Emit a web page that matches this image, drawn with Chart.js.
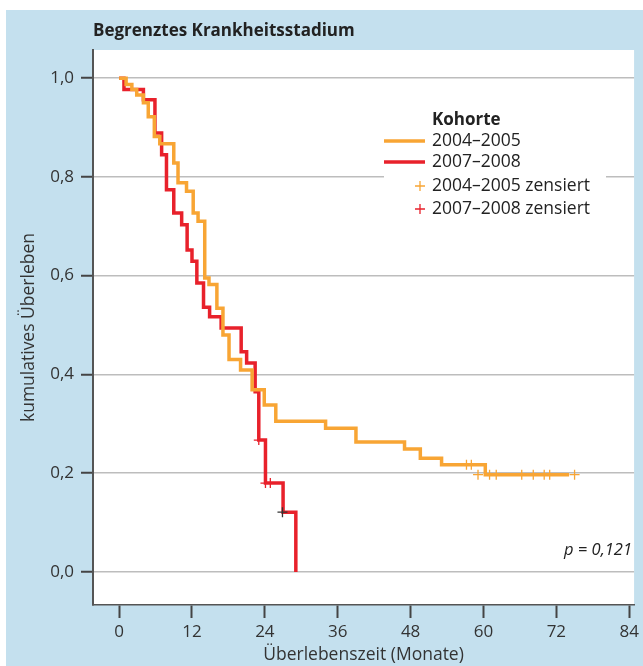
<!DOCTYPE html>
<html>
<head>
<meta charset="utf-8">
<script src="https://cdn.jsdelivr.net/npm/chart.js@4.4.1/dist/chart.umd.min.js"></script>
<style>
  body { margin: 0; background: #fff; }
  #wrap { width: 643px; height: 666px; }
</style>
</head>
<body>
<div id="wrap"><canvas id="kmChart" width="643" height="666"></canvas></div>
<script>
// Kaplan-Meier Daten
const orangeT = [0, 1.15, 2.1, 2.9, 4.0, 4.8, 5.8, 6.7, 9.0, 9.7, 11.1, 12.2, 13.0, 14.1, 14.8, 16.1, 17.1, 18.1, 20.0, 21.9, 23.9, 25.8, 34.0, 39.0, 47.0, 49.6, 53.1, 60.3, 74.1];
const orangeS = [1.0, 0.987, 0.977, 0.966, 0.950, 0.922, 0.882, 0.867, 0.828, 0.788, 0.771, 0.727, 0.710, 0.595, 0.582, 0.534, 0.480, 0.430, 0.409, 0.369, 0.338, 0.305, 0.291, 0.263, 0.249, 0.230, 0.217, 0.197, 0.197];
const redT = [0, 0.8, 4.0, 5.9, 7.0, 7.8, 9.0, 10.3, 11.2, 12.0, 12.8, 13.9, 14.9, 16.8, 20.1, 21.0, 22.4, 23.0, 24.1, 27.0, 29.1];
const redS = [1.0, 0.977, 0.956, 0.889, 0.845, 0.774, 0.727, 0.703, 0.652, 0.629, 0.585, 0.536, 0.517, 0.494, 0.446, 0.423, 0.365, 0.267, 0.180, 0.121, 0.0];

// zensierte Fälle
const orangeCensT = [57.2, 58.0, 59.1, 61.0, 62.1, 66.3, 68.2, 70.0, 70.9, 75.0];
const orangeCensS = [0.217, 0.217, 0.197, 0.197, 0.197, 0.197, 0.197, 0.197, 0.197, 0.197];
const redCensT = [23.0, 24.1, 24.9, 26.9];
const redCensS = [0.267, 0.180, 0.180, 0.121];

const xTicks = [0, 12, 24, 36, 48, 60, 72, 84];
const yTicks = [0, 0.2, 0.4, 0.6, 0.8, 1.0];

const ORANGE = '#f8a534';
const RED = '#e8212b';
const FONT = "'Open Sans', 'DejaVu Sans', sans-serif";

const pts = (t, s) => t.map((v, i) => ({ x: v, y: s[i] }));

// Hintergrund, Titel, Legende, p-Wert
const decor = {
    id: 'decor',
    beforeDraw(chart) {
        const c = chart.ctx;
        const a = chart.chartArea;
        c.save();
        c.fillStyle = '#c4e0ee';
        c.fillRect(6, 10, 637, 656);
        c.fillStyle = '#ffffff';
        c.fillRect(a.left, a.top, a.right - a.left, a.bottom - a.top);
        c.fillStyle = '#222';
        c.font = 'bold 17px ' + FONT;
        c.textBaseline = 'middle';
        c.fillText('Begrenztes Krankheitsstadium', 93, 31);
        c.restore();
    },
    afterDatasetsDraw(chart) {
        const c = chart.ctx;
        c.save();
        c.fillStyle = '#ffffff';
        c.fillRect(384, 104, 222, 118);
        c.textBaseline = 'middle';
        c.fillStyle = '#222';
        c.font = 'bold 17px ' + FONT;
        c.fillText('Kohorte', 432, 120);
        c.font = '17.5px ' + FONT;
        c.fillText('2004–2005', 432, 141);
        c.fillText('2007–2008', 432, 162);
        c.fillText('2004–2005 zensiert', 432, 186);
        c.fillText('2007–2008 zensiert', 432, 209);
        c.lineWidth = 3.5;
        c.strokeStyle = ORANGE;
        c.beginPath(); c.moveTo(384, 141); c.lineTo(425, 141); c.stroke();
        c.strokeStyle = RED;
        c.beginPath(); c.moveTo(384, 162); c.lineTo(425, 162); c.stroke();
        c.lineWidth = 1.3;
        [[ORANGE, 186], [RED, 209]].forEach(([col, y]) => {
            c.strokeStyle = col;
            c.beginPath();
            c.moveTo(415, y); c.lineTo(425, y);
            c.moveTo(420, y - 5); c.lineTo(420, y + 5);
            c.stroke();
        });
        c.font = 'italic 16.5px ' + FONT;
        c.textAlign = 'right';
        c.fillText('p = 0,121', 632, 550);
        c.restore();
    }
};

const ctx = document.getElementById('kmChart').getContext('2d');
const kmChart = new Chart(ctx, {
    type: 'line',
    data: {
        datasets: [{
            label: '2004–2005',
            data: pts(orangeT, orangeS),
            borderColor: ORANGE,
            borderWidth: 3.5,
            stepped: true,
            pointRadius: 0,
            fill: false,
            order: 1
        }, {
            label: '2007–2008',
            data: pts(redT, redS),
            borderColor: RED,
            borderWidth: 3.5,
            stepped: true,
            pointRadius: 0,
            fill: false,
            order: 2
        }, {
            type: 'scatter',
            label: '2004–2005 zensiert',
            data: pts(orangeCensT, orangeCensS),
            showLine: false,
            pointStyle: 'cross',
            pointRadius: 5,
            borderColor: ORANGE,
            borderWidth: 1.3,
            order: 0
        }, {
            type: 'scatter',
            label: '2007–2008 zensiert',
            data: pts(redCensT, redCensS),
            showLine: false,
            pointStyle: 'cross',
            pointRadius: 5,
            borderColor: [RED, RED, RED, '#333'],
            borderWidth: 1.3,
            order: 0
        }]
    },
    options: {
        responsive: false,
        animation: false,
        layout: { padding: { left: 0, top: 50, right: 6, bottom: 0 } },
        plugins: {
            legend: { display: false },
            tooltip: { enabled: false }
        },
        scales: {
            x: {
                type: 'linear',
                min: -4.3,
                max: 84.8,
                afterFit: s => { s.height = 61; },
                afterBuildTicks: s => { s.ticks = xTicks.map(v => ({ value: v })); },
                grid: {
                    drawOnChartArea: false,
                    tickLength: 13,
                    tickColor: '#444',
                    tickWidth: 2
                },
                border: { display: true, color: '#555', width: 1.5 },
                ticks: {
                    color: '#333',
                    padding: 4,
                    maxRotation: 0,
                    font: { family: FONT, size: 17 }
                },
                title: {
                    display: true,
                    text: 'Überlebenszeit (Monate)',
                    color: '#333',
                    padding: { top: 0, bottom: 0 },
                    font: { family: FONT, size: 17.5 }
                }
            },
            y: {
                min: -0.067,
                max: 1.057,
                afterFit: s => { s.width = 93; },
                afterBuildTicks: s => { s.ticks = yTicks.map(v => ({ value: v })); },
                grid: {
                    color: '#bdbdbd',
                    lineWidth: 1.5,
                    tickLength: 12,
                    tickColor: '#444',
                    tickWidth: 2
                },
                border: { display: true, color: '#555', width: 2 },
                ticks: {
                    color: '#333',
                    padding: 7,
                    font: { family: FONT, size: 17 },
                    callback: v => v.toFixed(1).replace('.', ',')
                },
                title: {
                    display: true,
                    text: 'kumulatives Überleben',
                    color: '#333',
                    padding: { top: 19, bottom: 0 },
                    font: { family: FONT, size: 17.5 }
                }
            }
        }
    },
    plugins: [decor]
});
</script>
</body>
</html>
